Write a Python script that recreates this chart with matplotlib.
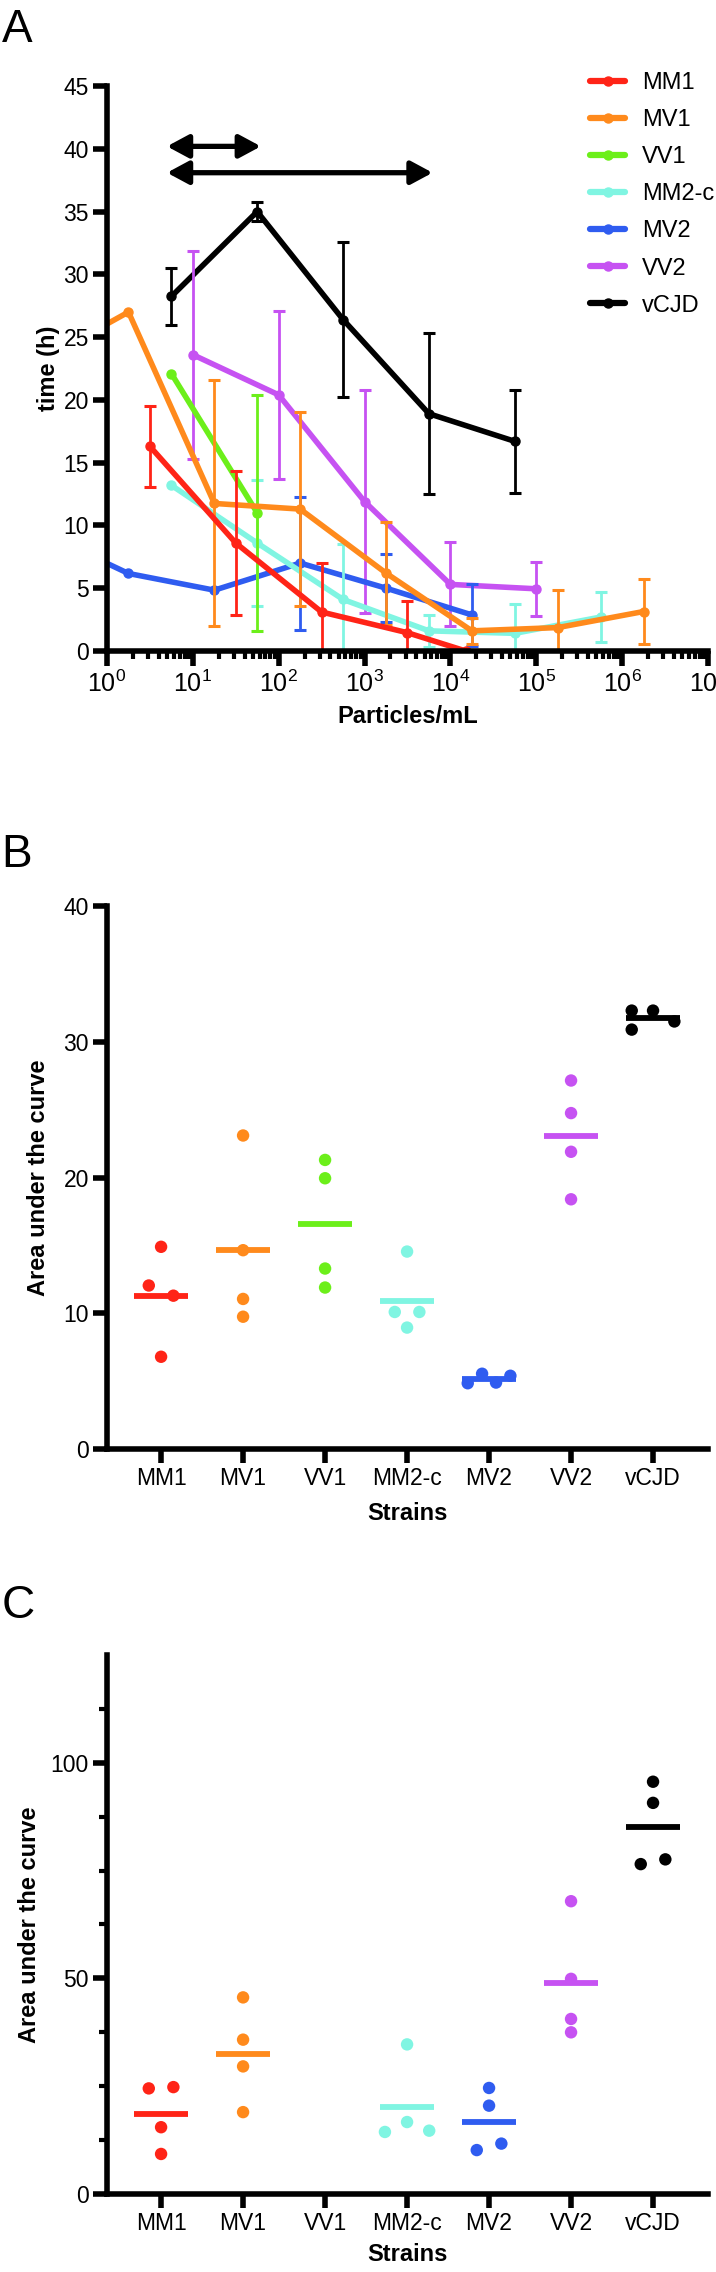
import numpy as np
import matplotlib.pyplot as plt
from matplotlib.lines import Line2D
from matplotlib.ticker import FixedLocator, LogLocator, NullFormatter

plt.rcParams['font.family'] = ['Liberation Sans', 'DejaVu Sans']
plt.rcParams['mathtext.fontset'] = 'custom'
plt.rcParams['mathtext.rm'] = 'Liberation Sans'
plt.rcParams['mathtext.bf'] = 'Liberation Sans:bold'

strains = ['MM1', 'MV1', 'VV1', 'MM2-c', 'MV2', 'VV2', 'vCJD']
colors = ['#FF2417', '#FF8A1C', '#6CEF1A', '#80F5E2', '#2F5CF0', '#C652F2', '#000000']

# panel A: time (h) vs particles/mL, mean and SD
mm1_x = [3.16, 31.6, 316, 3160, 15000]
mm1_y = [16.3, 8.6, 3.1, 1.45, 0.0]
mm1_sd = [3.2, 5.7, 3.9, 2.55, 0]

mv1_x = [0.178, 1.78, 17.8, 178, 1780, 17800, 178000, 1780000]
mv1_y = [23.2, 27.0, 11.75, 11.3, 6.2, 1.6, 1.86, 3.14]
mv1_sd = [0, 0, 9.8, 7.7, 4.1, 1.05, 3.0, 2.6]

vv1_x = [5.62, 56.2]
vv1_y = [22.1, 11.0]
vv1_sd = [0, 9.4]

mm2c_x = [5.62, 56.2, 562, 5620, 56200, 562000]
mm2c_y = [13.2, 8.6, 4.1, 1.6, 1.4, 2.7]
mm2c_sd = [0, 5.0, 4.4, 1.25, 2.3, 2.0]

mv2_x = [0.178, 1.78, 17.8, 178, 1780, 17800]
mv2_y = [9.4, 6.17, 4.84, 7.0, 5.0, 2.87]
mv2_sd = [0, 0, 0, 5.3, 2.7, 2.5]

vv2_x = [10, 100, 1000, 10000, 100000]
vv2_y = [23.6, 20.4, 11.9, 5.3, 4.95]
vv2_sd = [8.3, 6.7, 8.9, 3.35, 2.15]

vcjd_x = [5.62, 56.2, 562, 5620, 56200]
vcjd_y = [28.24, 35.0, 26.4, 18.9, 16.7]
vcjd_sd = [2.3, 0.75, 6.2, 6.4, 4.1]

# arrows above the curves (start, end, height)
arrows = [(5.0, 62.0, 40.2), (5.0, 6200.0, 38.1)]

# panel B: area under the curve
auc_b = [[14.9, 12.05, 11.3, 6.8],
         [23.1, 14.65, 11.06, 9.75],
         [21.3, 19.95, 13.3, 11.9],
         [14.55, 10.1, 10.1, 8.95],
         [4.85, 5.55, 4.9, 5.4],
         [27.15, 24.75, 21.9, 18.4],
         [32.3, 32.3, 31.5, 30.9]]
# horizontal spread of overlapping dots (category units)
spread_b = [[0, -0.15, 0.15, 0],
            [0, 0, 0, 0],
            [0, 0, 0, 0],
            [0, -0.15, 0.15, 0],
            [-0.26, -0.085, 0.085, 0.26],
            [0, 0, 0, 0],
            [-0.26, 0, 0.26, -0.26]]

# panel C: area under the curve (no VV1)
auc_c = [[24.5, 24.8, 15.5, 9.3],
         [45.6, 35.8, 29.6, 19.0],
         [],
         [34.7, 16.7, 14.4, 14.7],
         [24.6, 20.5, 11.7, 10.2],
         [67.9, 49.9, 40.6, 37.5],
         [95.6, 90.7, 76.5, 77.6]]
spread_c = [[-0.15, 0.15, 0, 0],
            [0, 0, 0, 0],
            [],
            [0, 0, -0.27, 0.27],
            [0, 0, 0.15, -0.15],
            [0, 0, 0, 0],
            [0, 0, -0.15, 0.15]]

series_a = [(mm1_x, mm1_y, mm1_sd), (mv1_x, mv1_y, mv1_sd), (vv1_x, vv1_y, vv1_sd),
            (mm2c_x, mm2c_y, mm2c_sd), (mv2_x, mv2_y, mv2_sd), (vv2_x, vv2_y, vv2_sd),
            (vcjd_x, vcjd_y, vcjd_sd)]

SPINE = 4.0
TICK = 16.5
LABEL = 17


def style_axes(ax):
    for s in ['top', 'right']:
        ax.spines[s].set_visible(False)
    for s in ['left', 'bottom']:
        ax.spines[s].set_linewidth(SPINE)
        ax.spines[s].set_capstyle('projecting')
    ax.tick_params(which='major', length=10, width=SPINE, labelsize=TICK, pad=3)
    ax.tick_params(which='minor', length=6, width=3)


fig = plt.figure(figsize=(7.16, 22.72), dpi=100)

# ---- A
ax = fig.add_axes([0.1494, 0.7135, 0.8394, 0.2486])
handles = []
for (x, y, sd), c, name in list(zip(series_a, colors, strains))[::-1]:
    x = np.array(x); y = np.array(y); sd = np.array(sd)
    m = sd > 0
    if m.any():
        ax.errorbar(x[m], y[m], yerr=sd[m], fmt='none', ecolor=c, elinewidth=2,
                    capsize=4, capthick=2.2)
    ax.plot(x, y, '-o', color=c, lw=4, ms=6.5, solid_capstyle='round',
            solid_joinstyle='round')
for name, c in zip(strains, colors):
    handles.append(Line2D([], [], color=c, lw=4.5, marker='o', ms=6.5,
                          solid_capstyle='round', label=name))

for x1, x2, yy in arrows:
    ax.annotate('', xy=(x2, yy), xytext=(x1, yy),
                arrowprops=dict(arrowstyle='<|-|>,head_length=0.65,head_width=0.35',
                                mutation_scale=20, lw=3.8, color='k',
                                shrinkA=0, shrinkB=0))

ax.set_xscale('log')
ax.set_xlim(1, 1e7)
ax.set_ylim(0, 45)
ax.set_yticks(np.arange(0, 46, 5))
ax.xaxis.set_major_locator(LogLocator(base=10, numticks=20))
ax.xaxis.set_minor_locator(LogLocator(base=10, subs=np.arange(2, 10), numticks=20))
ax.xaxis.set_minor_formatter(NullFormatter())
style_axes(ax)
ax.tick_params(axis='x', which='major', labelsize=18, length=11)
ax.set_xlabel('Particles/mL', fontsize=LABEL, fontweight='bold')
ax.xaxis.set_label_coords(0.5, -0.095)
ax.set_ylabel('time (h)', fontsize=LABEL, fontweight='bold')
ax.yaxis.set_label_coords(-0.078, 0.5)
ax.legend(handles=handles, loc='upper left', bbox_to_anchor=(0.824, 0.9683),
          bbox_transform=fig.transFigure, frameon=False, fontsize=17,
          borderpad=0, borderaxespad=0, handlelength=1.5, handletextpad=0.7,
          labelspacing=0.64)


def dot_panel(ax, values, spread, ymax):
    for i, (vals, off, c) in enumerate(zip(values, spread, colors)):
        if len(vals) == 0:
            continue
        ax.scatter(i + np.array(off), vals, s=80, color=c, edgecolors='none', zorder=3)
        ax.hlines(np.mean(vals), i - 0.33, i + 0.33, color=c, lw=4.2, zorder=4)
    ax.set_xlim(-0.66, 6.67)
    ax.set_ylim(0, ymax)
    ax.set_xticks(range(len(strains)))
    ax.set_xticklabels(strains)
    style_axes(ax)
    ax.set_xlabel('Strains', fontsize=LABEL, fontweight='bold')
    ax.set_ylabel('Area under the curve', fontsize=LABEL, fontweight='bold')


# ---- B
axb = fig.add_axes([0.1494, 0.3622, 0.8394, 0.2390])
dot_panel(axb, auc_b, spread_b, 40)
axb.set_yticks([0, 10, 20, 30, 40])
axb.xaxis.set_label_coords(0.5, -0.097)
axb.yaxis.set_label_coords(-0.095, 0.5)

# ---- C
axc = fig.add_axes([0.1494, 0.0343, 0.8394, 0.2373])
dot_panel(axc, auc_c, spread_c, 125)
axc.set_yticks([0, 50, 100])
axc.yaxis.set_minor_locator(FixedLocator([12.5, 25, 37.5, 62.5, 75, 87.5, 112.5]))
axc.xaxis.set_label_coords(0.5, -0.09)
axc.yaxis.set_label_coords(-0.11, 0.5)

for letter, yb in [('A', 0.98151), ('B', 0.61840), ('C', 0.28785)]:
    fig.text(0.002, yb, letter, fontsize=33, va='baseline', ha='left')

fig.savefig('out.png', dpi=100)
